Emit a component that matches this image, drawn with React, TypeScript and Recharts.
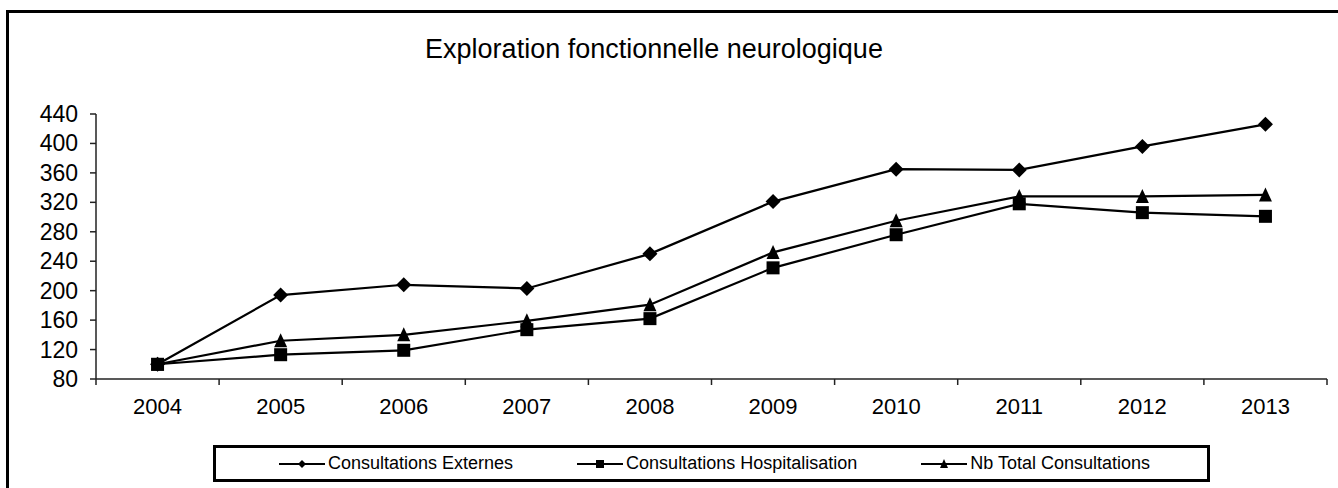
import React from "react";
import { Line, LineChart, XAxis, YAxis } from "recharts";

const years = ["2004", "2005", "2006", "2007", "2008", "2009", "2010", "2011", "2012", "2013"];
const externes = [100, 194, 208, 203, 250, 321, 365, 364, 396, 426];
const hospitalisation = [100, 113, 119, 147, 162, 231, 276, 318, 306, 301];
const total = [100, 132, 140, 159, 181, 252, 295, 328, 328, 330];
const yTicks = [80, 120, 160, 200, 240, 280, 320, 360, 400, 440];

const seriesNames = ["Consultations Externes", "Consultations Hospitalisation", "Nb Total Consultations"];

const data = years.map((year, i) => ({
  year,
  externes: externes[i],
  hospitalisation: hospitalisation[i],
  total: total[i],
}));

const W = 1338;
const H = 488;
const MARGIN = { top: 114, right: 11, left: 36, bottom: 79 };
const Y_AXIS_W = 60;
const PLOT_LEFT = MARGIN.left + Y_AXIS_W;
const PLOT_BOTTOM = H - MARGIN.bottom - 30;
const BAND = (W - MARGIN.right - PLOT_LEFT) / years.length;
const FONT = "'Liberation Sans', Arial, sans-serif";

type Shape = "diamond" | "square" | "triangle";

function marker(shape: Shape, cx: number, cy: number, s: number, key?: string) {
  if (shape === "diamond")
    return <path key={key} d={`M${cx},${cy - s} L${cx + s},${cy} L${cx},${cy + s} L${cx - s},${cy} Z`} fill="#000" />;
  if (shape === "square")
    return <rect key={key} x={cx - s} y={cy - s} width={s * 2} height={s * 2} fill="#000" />;
  return <path key={key} d={`M${cx},${cy - s - 1} L${cx + s},${cy + s} L${cx - s},${cy + s} Z`} fill="#000" />;
}

const dotFor = (shape: Shape, size: number) => (props: any) => {
  const { cx, cy, index } = props;
  if (cx == null || cy == null) return <g key={`d-${shape}-${index}`} />;
  return marker(shape, cx, cy, size, `d-${shape}-${index}`);
};

function YearTick(props: any) {
  const { x, payload, index } = props;
  return (
    <g>
      <line x1={x - BAND / 2} x2={x - BAND / 2} y1={PLOT_BOTTOM} y2={PLOT_BOTTOM + 6} stroke="#222" strokeWidth={1.5} />
      {index === years.length - 1 && (
        <line x1={x + BAND / 2} x2={x + BAND / 2} y1={PLOT_BOTTOM} y2={PLOT_BOTTOM + 6} stroke="#222" strokeWidth={1.5} />
      )}
      <text x={x} y={PLOT_BOTTOM + 35} textAnchor="middle" fontSize={22} fontFamily={FONT} fill="#000">
        {payload.value}
      </text>
    </g>
  );
}

function ValueTick(props: any) {
  const { y, payload } = props;
  return (
    <g>
      <line x1={PLOT_LEFT - 6} x2={PLOT_LEFT} y1={y} y2={y} stroke="#222" strokeWidth={1.5} />
      <text x={PLOT_LEFT - 18} y={y + 8} textAnchor="end" fontSize={23} fontFamily={FONT} fill="#000">
        {payload.value}
      </text>
    </g>
  );
}

const shapes: Shape[] = ["diamond", "square", "triangle"];

export default function App() {
  return (
    <div style={{ position: "relative", width: W, height: H, overflow: "hidden", background: "#fff" }}>
      <style>{`body{margin:0}`}</style>
      <div
        style={{
          position: "absolute",
          left: 6,
          top: 10,
          width: 1400,
          height: 520,
          border: "3px solid #000",
        }}
      />
      <div
        style={{
          position: "absolute",
          left: 0,
          top: 36,
          width: 1308,
          textAlign: "center",
          fontFamily: FONT,
          fontSize: 27,
          lineHeight: "27px",
          color: "#000",
        }}
      >
        Exploration fonctionnelle neurologique
      </div>
      <div style={{ position: "absolute", left: 0, top: 0 }}>
        <LineChart width={W} height={H} data={data} margin={MARGIN}>
          <XAxis
            dataKey="year"
            height={30}
            padding={{ left: BAND / 2, right: BAND / 2 }}
            axisLine={{ stroke: "#222", strokeWidth: 1.5 }}
            tickLine={false}
            tick={<YearTick />}
            interval={0}
          />
          <YAxis
            width={Y_AXIS_W}
            domain={[80, 440]}
            ticks={yTicks}
            interval={0}
            axisLine={{ stroke: "#222", strokeWidth: 1.5 }}
            tickLine={false}
            tick={<ValueTick />}
          />
          <Line
            dataKey="externes"
            stroke="#000"
            strokeWidth={2.2}
            dot={dotFor("diamond", 7.5)}
            isAnimationActive={false}
          />
          <Line
            dataKey="hospitalisation"
            stroke="#000"
            strokeWidth={2.2}
            dot={dotFor("square", 6.5)}
            isAnimationActive={false}
          />
          <Line
            dataKey="total"
            stroke="#000"
            strokeWidth={2.2}
            dot={dotFor("triangle", 6.5)}
            isAnimationActive={false}
          />
        </LineChart>
      </div>
      <div
        style={{
          position: "absolute",
          left: 213,
          top: 445,
          width: 997,
          height: 37,
          boxSizing: "border-box",
          border: "3px solid #000",
          display: "flex",
          alignItems: "center",
          justifyContent: "center",
          gap: 64,
          fontFamily: FONT,
          fontSize: 18,
          color: "#000",
          paddingLeft: 6,
        }}
      >
        {seriesNames.map((name, i) => (
          <div key={name} style={{ display: "flex", alignItems: "center", gap: 3 }}>
            <svg width={46} height={14}>
              <line x1={0} x2={46} y1={7} y2={7} stroke="#000" strokeWidth={2} />
              {marker(shapes[i], 23, 7, 4)}
            </svg>
            <span>{name}</span>
          </div>
        ))}
      </div>
    </div>
  );
}
